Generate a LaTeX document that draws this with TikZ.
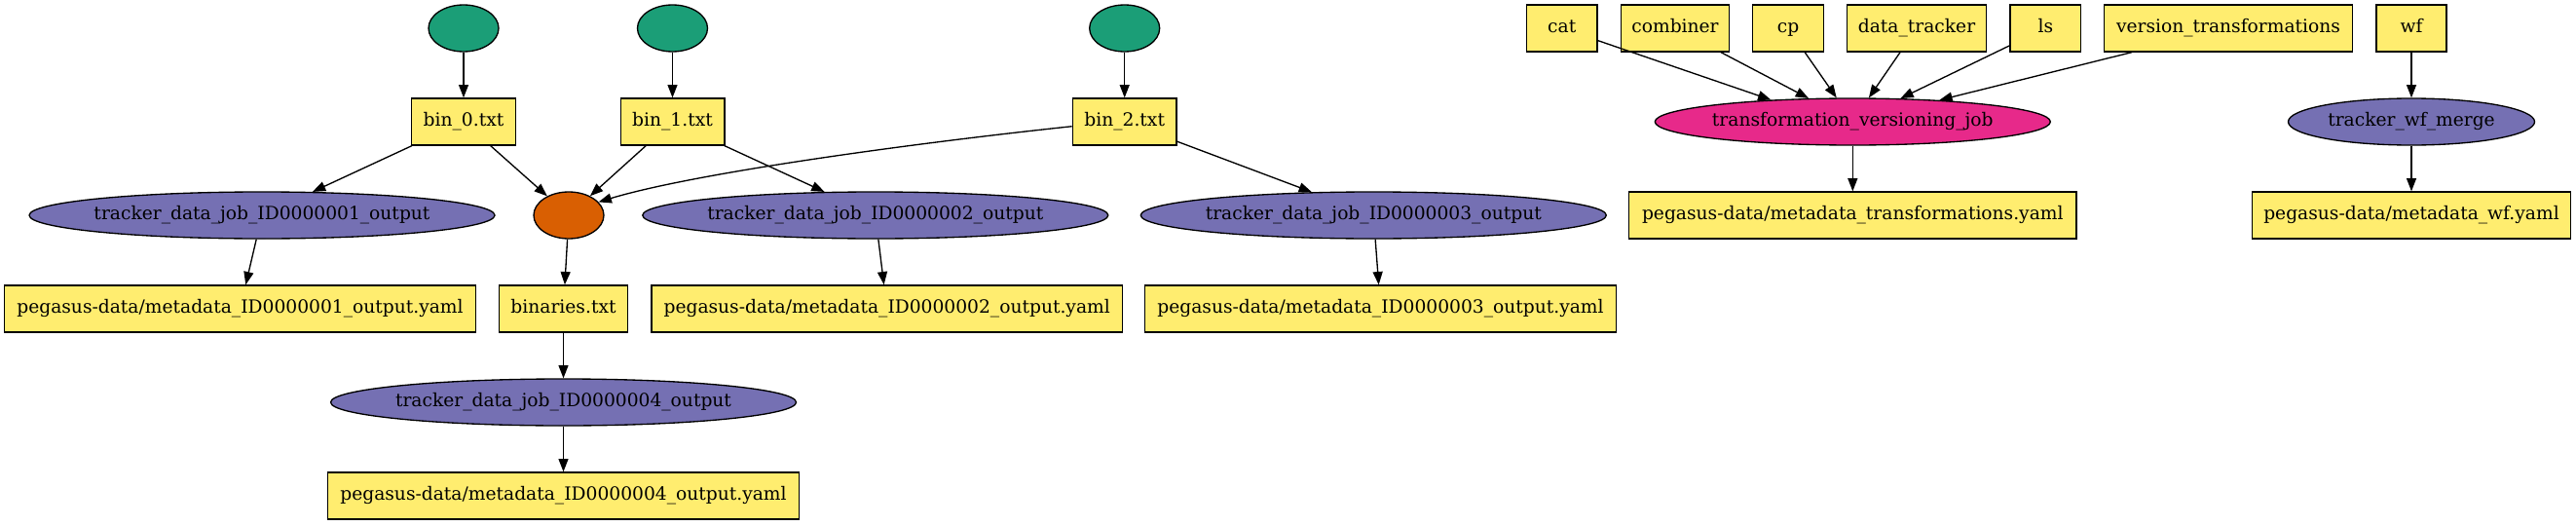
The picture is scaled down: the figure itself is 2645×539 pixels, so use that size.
\documentclass[tikz,border=0pt]{standalone}
\usepackage{fontspec}
\setmainfont{DejaVu Serif}
\usepackage{tikz}
\usetikzlibrary{
  arrows.meta,
  positioning,
  shapes.geometric
}
\definecolor{fileyellow}{RGB}{255,237,111}
\definecolor{inputgreen}{RGB}{27,158,119}
\definecolor{mergeorange}{RGB}{217,95,2}
\definecolor{trackpurple}{RGB}{117,112,179}
\definecolor{versionpink}{RGB}{231,41,138}
\newcommand{\nowidth}[1]{\makebox[0pt]{#1}}

\begin{document}
\begin{tikzpicture}[x=0.75pt, y=-0.75pt, node distance=72pt,
            every node/.style={font=\fontsize{14}{16}\selectfont, text height=10pt, text depth=3pt, inner sep=0pt, line width=1pt},
            filebox/.style={rectangle, draw=black, fill=fileyellow, minimum height=36pt},
            inputdot/.style={ellipse, draw=black, fill=inputgreen, minimum width=54pt, minimum height=36pt},
            mergedot/.style={ellipse, draw=black, fill=mergeorange, minimum width=54pt, minimum height=36pt},
            trackjob/.style={ellipse, draw=black, fill=trackpurple, minimum width=358.5pt, minimum height=36pt},
            versionjob/.style={ellipse, draw=black, fill=versionpink, minimum width=304.5pt, minimum height=36pt},
            flow/.style={-{Triangle[length=10pt, width=7.5pt]}, line width=1pt}]
  \useasboundingbox (0,0) rectangle (2645,539);

  % data branch
  \node [inputdot] (in0) at (476,29) {};
  \node [inputdot] (in1) at (690.5,29) {};
  \node [inputdot] (in2) at (1154.7,29) {};
  \node [filebox, minimum width=80pt, below of=in0] (bin0) {bin\_0.txt};
  \node [filebox, minimum width=80pt, below of=in1] (bin1) {bin\_1.txt};
  \node [filebox, minimum width=80pt, below of=in2] (bin2) {bin\_2.txt};
  \node [trackjob] (trk1) at (269,221) {\nowidth{tracker\_data\_job\_ID0000001\_output}};
  \node [mergedot] (merge) at (584,221) {};
  \node [trackjob] (trk2) at (898.8,221) {\nowidth{tracker\_data\_job\_ID0000002\_output}};
  \node [trackjob] (trk3) at (1410.3,221) {\nowidth{tracker\_data\_job\_ID0000003\_output}};
  \node [filebox, minimum width=362.8pt] (meta1) at (246.5,317) {pegasus-data/metadata\_ID0000001\_output.yaml};
  \node [filebox, minimum width=99.3pt] (binaries) at (578.5,317) {binaries.txt};
  \node [filebox, minimum width=362.8pt] (meta2) at (910.7,317) {pegasus-data/metadata\_ID0000002\_output.yaml};
  \node [filebox, minimum width=362.8pt] (meta3) at (1417.5,317) {pegasus-data/metadata\_ID0000003\_output.yaml};
  \node [trackjob, below of=binaries] (trk4) {\nowidth{tracker\_data\_job\_ID0000004\_output}};
  \node [filebox, minimum width=362.8pt, below of=trk4] (meta4) {pegasus-data/metadata\_ID0000004\_output.yaml};

  % transformation branch
  \node [filebox, minimum width=54.5pt] (cat) at (1603.7,29) {cat};
  \node [filebox, minimum width=83.5pt] (combiner) at (1720,29) {combiner};
  \node [filebox, minimum width=54.5pt] (cp) at (1836,29) {cp};
  \node [filebox, minimum width=107pt] (datatracker) at (1968,29) {data\_tracker};
  \node [filebox, minimum width=54.5pt] (ls) at (2100.3,29) {ls};
  \node [filebox, minimum width=191pt] (versiontf) at (2288,29) {version\_transformations};
  \node [filebox, minimum width=54.2pt] (wf) at (2476,29) {wf};
  \node [versionjob] (tvjob) at (1902.3,125) {\nowidth{transformation\_versioning\_job}};
  \node [filebox, minimum width=344.5pt, below of=tvjob] (metatf) {pegasus-data/metadata\_transformations.yaml};
  \node [ellipse, draw=black, fill=trackpurple, minimum width=189.75pt, minimum height=36pt, below of=wf] (wfmerge) {\nowidth{tracker\_wf\_merge}};
  \node [filebox, minimum width=245.25pt, below of=wfmerge] (metawf) {pegasus-data/metadata\_wf.yaml};

  \draw [flow] (in0) -- (bin0);
  \draw [flow] (in1) -- (bin1);
  \draw [flow] (in2) -- (bin2);
  \draw [flow] (bin0) -- (trk1);
  \draw [flow] (bin0) -- (merge);
  \draw [flow] (bin1) -- (merge);
  \draw [flow] (bin1) -- (trk2);
  \draw [flow] (bin2.185) .. controls +(-151,16) and +(103,-31) .. (merge.24);
  \draw [flow] (bin2) -- (trk3);
  \draw [flow] (trk1) -- (meta1);
  \draw [flow] (merge) -- (binaries);
  \draw [flow] (trk2) -- (meta2);
  \draw [flow] (trk3) -- (meta3);
  \draw [flow] (binaries) -- (trk4);
  \draw [flow] (trk4) -- (meta4);

  \draw [flow] (cat) -- (tvjob.165.7);
  \draw [flow] (combiner) -- (tvjob.152);
  \draw [flow] (cp) -- (tvjob.124.3);
  \draw [flow] (datatracker) -- (tvjob.56.2);
  \draw [flow] (ls) -- (tvjob.26);
  \draw [flow] (versiontf) -- (tvjob.14.2);
  \draw [flow] (tvjob) -- (metatf);
  \draw [flow] (wf) -- (wfmerge);
  \draw [flow] (wfmerge) -- (metawf);
\end{tikzpicture}
\end{document}
